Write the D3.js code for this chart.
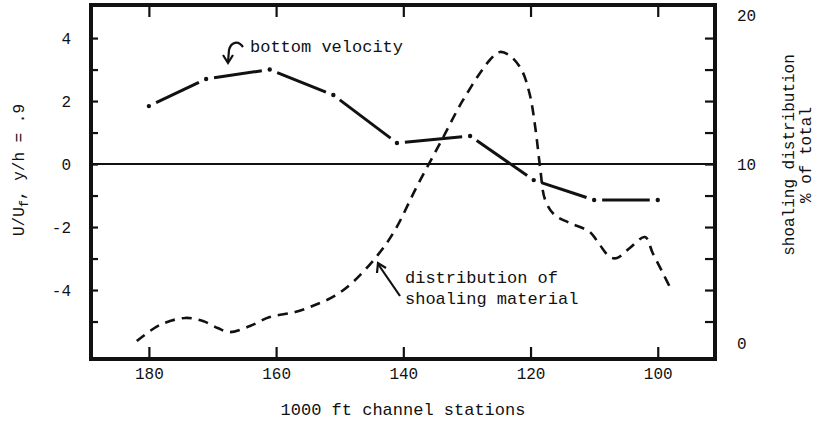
<!DOCTYPE html>
<html>
<head>
<meta charset="utf-8">
<script src="https://cdn.jsdelivr.net/npm/d3@7"></script>
<style>
  body { margin: 0; background: #fff; }
  text { font-family: "Liberation Mono", "Courier New", monospace; fill: #111; }
</style>
</head>
<body>
<div id="chart"></div>
<script>
// bottom velocity (dash-dot line), U/Uf at y/h = .9
const velStations = [180, 171, 161, 151, 141, 129.5, 119.5, 110, 100];
const velValues = [1.84, 2.7, 3.0, 2.19, 0.67, 0.89, -0.51, -1.14, -1.14];

// distribution of shoaling material (dashed line), % of total
const shoalStations = [181.9, 178.3, 174.3, 171.5, 169.2, 167.3, 164.1, 161, 157, 153.9,
  150.8, 147.9, 144, 141.3, 137.9, 134.2, 130.6, 126.4, 124.8, 123.2, 121.4, 120.1,
  119.2, 118.5, 117.7, 116.2, 113.8, 110.7, 109.1, 107.5, 106.4, 104.4, 102, 100.8, 99.2, 97.8];
const shoalPercent = [0.11, 1.0, 1.4, 1.23, 0.84, 0.61, 0.95, 1.45, 1.73, 2.12,
  2.63, 3.41, 4.92, 6.31, 8.72, 11.41, 14.3, 16.98, 17.52, 17.25, 16.31, 14.63,
  12.28, 9.83, 7.99, 7.15, 6.7, 6.2, 5.47, 4.8, 4.75, 5.31, 5.92, 5.03, 3.91, 2.91];

const xTicks = [180, 160, 140, 120, 100];
const yTicks = [-5, -4, -3, -2, -1, 0, 1, 2, 3, 4];
const yLabelTicks = [-4, -2, 0, 2, 4];
const rightTicks = [0, 10, 20];

const width = 817;
const height = 421;
const frame = { left: 91, right: 715, top: 5, bottom: 359 };

const svg = d3
  .select("#chart")
  .append("svg")
  .attr("width", width)
  .attr("height", height);

const x = d3.scaleLinear().domain([189.1, 91]).range([frame.left, frame.right]);
const y = d3.scaleLinear().domain([-6.19, 5.05]).range([frame.bottom, frame.top]);
// right axis labels were placed by hand, not evenly
const yR = d3.scaleLinear().domain([0, 10, 20]).range([343, 164, 15]);

// tick marks, all pointing inward
svg.append("g")
  .attr("transform", `translate(${frame.left},0)`)
  .call(d3.axisLeft(y).tickValues(yTicks).tickSize(-7)
    .tickFormat((d) => (yLabelTicks.includes(d) ? String(d) : ""))
    .tickPadding(20))
  .call((g) => g.select(".domain").remove());

svg.append("g")
  .attr("transform", `translate(${frame.right},0)`)
  .call(d3.axisRight(y).tickValues(yTicks).tickSize(-10).tickFormat(""))
  .call((g) => g.select(".domain").remove());

svg.append("g")
  .attr("transform", `translate(${frame.right},0)`)
  .call(d3.axisRight(yR).tickValues(rightTicks).tickSize(0).tickPadding(22))
  .call((g) => g.select(".domain").remove());

svg.append("g")
  .attr("transform", `translate(0,${frame.bottom})`)
  .call(d3.axisBottom(x).tickValues(xTicks).tickSize(-12).tickPadding(9))
  .call((g) => g.select(".domain").remove());

svg.append("g")
  .attr("transform", `translate(0,${frame.top})`)
  .call(d3.axisTop(x).tickValues(xTicks).tickSize(-12).tickFormat(""))
  .call((g) => g.select(".domain").remove());

svg.selectAll(".tick line").attr("stroke", "#111").attr("stroke-width", 2.2);
svg.selectAll(".tick text")
  .style("font-family", '"Liberation Mono", monospace')
  .style("font-size", "16px")
  .attr("fill", "#111");

// frame
svg.append("rect")
  .attr("x", frame.left).attr("y", frame.top)
  .attr("width", frame.right - frame.left).attr("height", frame.bottom - frame.top)
  .attr("fill", "none").attr("stroke", "#111").attr("stroke-width", 4);

// zero line
svg.append("line")
  .attr("x1", frame.left).attr("x2", frame.right)
  .attr("y1", y(0)).attr("y2", y(0))
  .attr("stroke", "#111").attr("stroke-width", 2);

// shoaling distribution, dashed
const shoal = shoalStations.map((s, i) => [x(s), yR(shoalPercent[i])]);
svg.append("path")
  .attr("d", d3.line().curve(d3.curveCatmullRom)(shoal))
  .attr("fill", "none")
  .attr("stroke", "#111")
  .attr("stroke-width", 2.6)
  .attr("stroke-dasharray", "10,7");

// bottom velocity, segments with a dot at each station
const vel = velStations.map((s, i) => [x(s), y(velValues[i])]);
const gap = 8;
for (let i = 0; i < vel.length - 1; i++) {
  const [x1, y1] = vel[i];
  const [x2, y2] = vel[i + 1];
  const len = Math.hypot(x2 - x1, y2 - y1);
  const ux = (x2 - x1) / len, uy = (y2 - y1) / len;
  svg.append("line")
    .attr("x1", x1 + ux * gap).attr("y1", y1 + uy * gap)
    .attr("x2", x2 - ux * gap).attr("y2", y2 - uy * gap)
    .attr("stroke", "#111").attr("stroke-width", 3);
}
svg.selectAll(".veldot")
  .data(vel)
  .join("circle")
  .attr("class", "veldot")
  .attr("cx", (d) => d[0]).attr("cy", (d) => d[1])
  .attr("r", 2.2).attr("fill", "#111");

// annotations
svg.append("text")
  .attr("x", 250).attr("y", 52)
  .style("font-size", "17px")
  .text("bottom velocity");

svg.append("path")
  .attr("d", "M243,47 C238,40 231,42 229,50 L228,62")
  .attr("fill", "none").attr("stroke", "#111").attr("stroke-width", 2.2);
svg.append("path")
  .attr("d", "M223,55 L228,63 L233,55")
  .attr("fill", "none").attr("stroke", "#111").attr("stroke-width", 2.2);

const t2 = svg.append("text").style("font-size", "17px");
t2.append("tspan").attr("x", 405).attr("y", 283).text("distribution of");
t2.append("tspan").attr("x", 405).attr("y", 304).text("shoaling material");

svg.append("path")
  .attr("d", "M400,296 L378,264")
  .attr("fill", "none").attr("stroke", "#111").attr("stroke-width", 2.2);
svg.append("path")
  .attr("d", "M377,273 L378,263 L386,268")
  .attr("fill", "none").attr("stroke", "#111").attr("stroke-width", 2.2);

// axis titles
svg.append("text")
  .attr("x", 403).attr("y", 415)
  .attr("text-anchor", "middle")
  .style("font-size", "17px")
  .text("1000 ft channel stations");

const yt = svg.append("text")
  .attr("transform", "translate(24,170) rotate(-90)")
  .attr("text-anchor", "middle")
  .style("font-size", "16px");
yt.append("tspan").text("U/U");
yt.append("tspan").attr("dy", 4).style("font-size", "12px").text("f");
yt.append("tspan").attr("dy", -4).text(", y/h = .9");

svg.append("text")
  .attr("transform", "translate(794,155) rotate(-90)")
  .attr("text-anchor", "middle")
  .style("font-size", "16px")
  .text("shoaling distribution");
svg.append("text")
  .attr("transform", "translate(811,155) rotate(-90)")
  .attr("text-anchor", "middle")
  .style("font-size", "16px")
  .text("% of total");
</script>
</body>
</html>
